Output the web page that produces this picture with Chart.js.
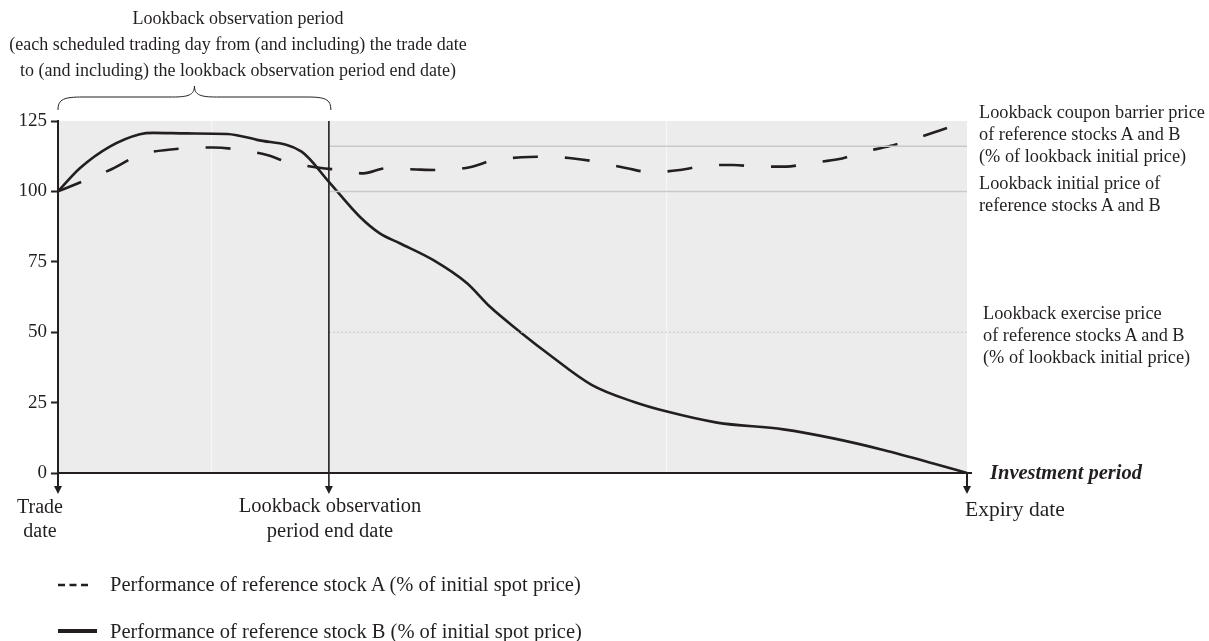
<!DOCTYPE html>
<html>
<head>
<meta charset="utf-8">
<script src="https://cdn.jsdelivr.net/npm/chart.js@4"></script>
<style>
  body { margin: 0; background: #fff; }
  #wrap { position: relative; width: 1209px; height: 641px; font-family: "Liberation Serif", "DejaVu Serif", serif; color: #231f20; }
  #wrap canvas { position: absolute; left: 0; top: 0; }
  .lbl { position: absolute; white-space: nowrap; font-size: 18px; line-height: 22px; }
  .ctr { text-align: center; }
</style>
</head>
<body>
<div id="wrap">
  <canvas id="chart"></canvas>
  <div class="lbl ctr" style="left:-62px; width:600px; top:5px; line-height:26px;">Lookback observation period<br>(each scheduled trading day from (and including) the trade date<br>to (and including) the lookback observation period end date)</div>
  <div class="lbl" style="left:979px; top:101px; font-size:18.3px;">Lookback coupon barrier price<br>of reference stocks A and B<br>(% of lookback initial price)</div>
  <div class="lbl" style="left:979px; top:172px; font-size:18.3px;">Lookback initial price of<br>reference stocks A and B</div>
  <div class="lbl" style="left:983px; top:302px; font-size:18.3px;">Lookback exercise price<br>of reference stocks A and B<br>(% of lookback initial price)</div>
  <div class="lbl" style="left:990px; top:460px; font-size:20.5px; line-height:24px; font-weight:bold; font-style:italic;">Investment period</div>
  <div class="lbl" style="left:965px; top:497px; font-size:21.5px; line-height:25px;">Expiry date</div>
  <div class="lbl ctr" style="left:-10px; width:100px; top:494px; font-size:20px; line-height:24px;">Trade<br>date</div>
  <div class="lbl ctr" style="left:180px; width:300px; top:493px; font-size:20.5px; line-height:25px;">Lookback observation<br>period end date</div>
  <div class="lbl" style="left:110px; top:572px; font-size:20.5px; line-height:25px;">Performance of reference stock A (% of initial spot price)</div>
  <div class="lbl" style="left:110px; top:619px; font-size:20.5px; line-height:25px;">Performance of reference stock B (% of initial spot price)</div>
</div>
<script>
// ── DATA ──
const stockAX = [0, 2.6, 5.7, 9.0, 13.8, 17.1, 19.7, 23.0, 25.2, 28.3, 31.0, 33.6, 36.1, 39.4, 42.0, 45.3, 47.9, 51.0, 53.8, 56.7, 59.6, 62.6, 65.3, 68.4, 71.2, 74.3, 77.0, 80.1, 82.9, 85.8, 88.6, 91.5, 94.3, 97.0, 100];
const stockAY = [100, 103.4, 107.6, 112.9, 115.3, 115.6, 114.9, 112.9, 110.5, 108.6, 107.6, 106.4, 108.2, 107.8, 107.6, 108.6, 111.1, 112.1, 112.3, 111.7, 110.3, 108.2, 106.8, 107.6, 109.1, 109.4, 108.8, 108.8, 110.2, 111.4, 114.0, 116.1, 118.8, 121.6, 125];
const stockBX = [0, 2.4, 5.7, 9.0, 10.5, 14.2, 18.6, 21.9, 26.8, 29.8, 33.2, 35.4, 37.6, 41.3, 45.0, 47.5, 50.8, 54.1, 58.7, 63.3, 67.0, 72.5, 79.8, 85.3, 90.8, 96.3, 100];
const stockBY = [100, 108.2, 115.9, 120.3, 120.8, 120.6, 120.4, 118.3, 114.1, 103.4, 91.0, 85.1, 81.6, 75.6, 67.4, 59.1, 50.2, 41.9, 31.3, 25.3, 21.8, 17.9, 15.5, 12.3, 8.2, 3.4, 0];

const periodStart = 0;      // trade date
const lookbackEnd = 29.8;   // lookback observation period end date
const periodEnd = 100;      // expiry date
const gridX = [16.9, 66.9];
const yTicks = [0, 25, 50, 75, 100, 125];
const barrierLevel = 116;
const initialLevel = 100;
const exerciseLevel = 50;

const INK = '#231f20';
const pts = (xs, ys) => xs.map((x, i) => ({ x: x, y: ys[i] }));
const level = v => [{ x: lookbackEnd, y: v }, { x: periodEnd, y: v }];

// ── PLUGINS ──
const backdrop = {
  id: 'backdrop',
  beforeDraw(chart) {
    const { ctx, chartArea: a } = chart;
    ctx.save();
    ctx.fillStyle = '#ececec';
    ctx.fillRect(a.left, a.top, a.right - a.left, a.bottom - a.top);
    ctx.restore();
  }
};

function arrowDown(ctx, x, y0, y1) {
  ctx.beginPath();
  ctx.moveTo(x, y0);
  ctx.lineTo(x, y1 - 7);
  ctx.stroke();
  ctx.beginPath();
  ctx.moveTo(x - 4, y1 - 8);
  ctx.lineTo(x + 4, y1 - 8);
  ctx.lineTo(x, y1);
  ctx.closePath();
  ctx.fill();
}

const annotations = {
  id: 'annotations',
  afterDraw(chart) {
    const { ctx, chartArea: a, scales: { x, y } } = chart;
    const x0 = x.getPixelForValue(periodStart);
    const xl = x.getPixelForValue(lookbackEnd);
    const x1 = x.getPixelForValue(periodEnd);
    const yb = y.getPixelForValue(0);
    ctx.save();
    ctx.strokeStyle = INK;
    ctx.fillStyle = INK;

    // x axis line
    ctx.lineWidth = 2;
    ctx.beginPath();
    ctx.moveTo(x0 - 1, yb);
    ctx.lineTo(x1 + 5, yb);
    ctx.stroke();

    // arrows at dates
    arrowDown(ctx, x0, yb, yb + 21);
    arrowDown(ctx, x1, yb, yb + 21);
    ctx.lineWidth = 1.6;
    arrowDown(ctx, xl, a.top, yb + 21);

    // brace over lookback period
    const bt = 86, bm = 97, be = 110;
    const mid = (x0 + xl) / 2 + 1;
    ctx.lineWidth = 1;
    ctx.beginPath();
    ctx.moveTo(x0, be);
    ctx.bezierCurveTo(x0, bm + 2, x0 + 6, bm, x0 + 25, bm);
    ctx.lineTo(mid - 22, bm);
    ctx.bezierCurveTo(mid - 6, bm, mid, bm - 2, mid, bt);
    ctx.bezierCurveTo(mid, bm - 2, mid + 6, bm, mid + 22, bm);
    ctx.lineTo(xl - 22, bm);
    ctx.bezierCurveTo(xl - 4, bm, xl + 2, bm + 2, xl + 2, be);
    ctx.stroke();

    // legend samples
    ctx.lineWidth = 2.5;
    ctx.setLineDash([7, 4.5]);
    ctx.beginPath();
    ctx.moveTo(58, 585);
    ctx.lineTo(88, 585);
    ctx.stroke();
    ctx.setLineDash([]);
    ctx.lineWidth = 4;
    ctx.beginPath();
    ctx.moveTo(58, 631);
    ctx.lineTo(97, 631);
    ctx.stroke();
    ctx.restore();
  }
};

// ── CHART ──
new Chart(document.getElementById('chart'), {
  type: 'line',
  data: {
    datasets: [
      { data: level(barrierLevel), borderColor: '#c9c9c9', borderWidth: 1.5, pointRadius: 0 },
      { data: level(initialLevel), borderColor: '#c9c9c9', borderWidth: 1.5, pointRadius: 0 },
      { data: level(exerciseLevel), borderColor: '#c4c4c4', borderWidth: 1, borderDash: [2, 2], pointRadius: 0 },
      {
        label: 'Performance of reference stock A (% of initial spot price)',
        data: pts(stockAX, stockAY),
        borderColor: INK, borderWidth: 2.6, borderDash: [25, 27],
        cubicInterpolationMode: 'monotone', pointRadius: 0
      },
      {
        label: 'Performance of reference stock B (% of initial spot price)',
        data: pts(stockBX, stockBY),
        borderColor: INK, borderWidth: 2.6,
        cubicInterpolationMode: 'monotone', pointRadius: 0
      }
    ]
  },
  options: {
    responsive: true,
    maintainAspectRatio: false,
    animation: false,
    clip: false,
    layout: { padding: { left: 0, top: 121, right: 242, bottom: 168 } },
    plugins: { legend: { display: false }, tooltip: { enabled: false } },
    scales: {
      x: {
        type: 'linear', min: periodStart, max: periodEnd,
        afterBuildTicks: s => { s.ticks = gridX.map(v => ({ value: v })); },
        afterFit: s => { s.height = 0; },
        ticks: { display: false },
        grid: { color: '#f7f7f7', lineWidth: 1.2, drawTicks: false },
        border: { display: false }
      },
      y: {
        min: 0, max: 125,
        afterBuildTicks: s => { s.ticks = yTicks.map(v => ({ value: v })); },
        afterFit: s => { s.width = 58; },
        ticks: { color: INK, padding: 4, font: { family: 'Liberation Serif', size: 19 } },
        grid: { drawOnChartArea: false, drawTicks: true, tickLength: 7, tickColor: INK, tickWidth: 2 },
        border: { display: true, color: INK, width: 2 }
      }
    }
  },
  plugins: [backdrop, annotations]
});
</script>
</body>
</html>
